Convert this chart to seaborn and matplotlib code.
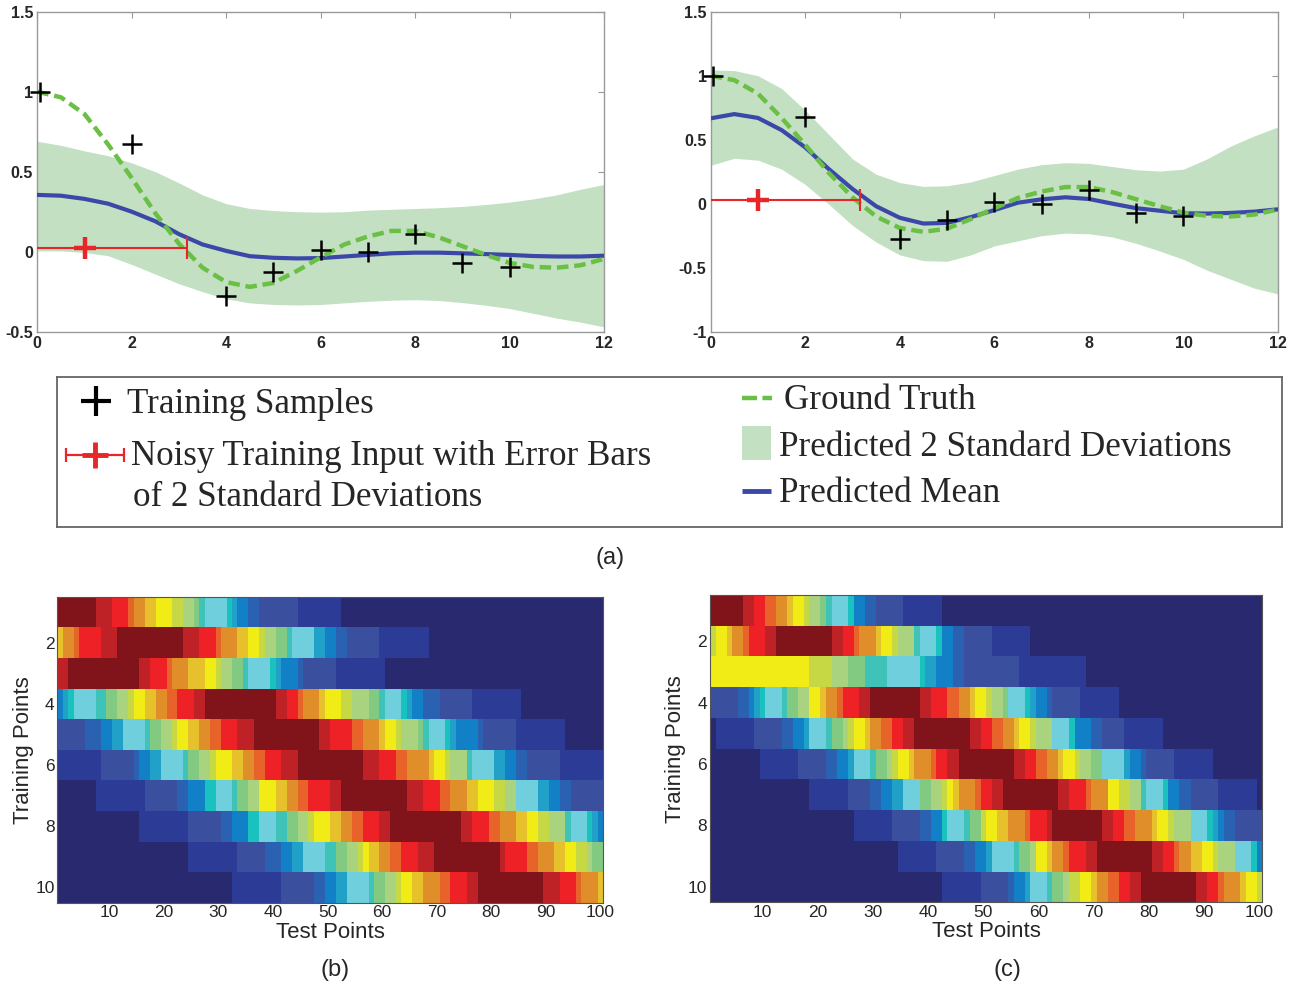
import numpy as np
import pandas as pd
import matplotlib
matplotlib.use("Agg")
import matplotlib.pyplot as plt
from matplotlib.colors import ListedColormap
from matplotlib.patches import Rectangle
import seaborn as sns

# ---------------- data: top panels ----------------
x_grid = [0, 0.5, 1, 1.5, 2, 2.5, 3, 3.5, 4, 4.5, 5, 5.5, 6, 6.5, 7, 7.5, 8, 8.5,
          9, 9.5, 10, 10.5, 11, 11.5, 12]
ground_truth = [1.0, 0.965, 0.86, 0.67, 0.46, 0.24, 0.05, -0.10, -0.19, -0.22, -0.195,
                -0.12, -0.035, 0.045, 0.095, 0.13, 0.13, 0.09, 0.035, -0.02, -0.07,
                -0.095, -0.10, -0.085, -0.045]
left_mean = [0.355, 0.35, 0.33, 0.30, 0.25, 0.19, 0.11, 0.045, 0.005, -0.028, -0.038,
             -0.042, -0.04, -0.03, -0.02, -0.01, -0.006, -0.006, -0.01, -0.015, -0.02,
             -0.027, -0.03, -0.03, -0.025]
left_upper = [0.69, 0.665, 0.63, 0.60, 0.555, 0.50, 0.43, 0.355, 0.30, 0.27, 0.257,
              0.25, 0.247, 0.25, 0.26, 0.265, 0.27, 0.275, 0.283, 0.295, 0.31, 0.33,
              0.355, 0.39, 0.42]
left_lower = [0.005, 0.005, -0.005, -0.025, -0.08, -0.14, -0.20, -0.25, -0.295, -0.32,
              -0.33, -0.333, -0.33, -0.32, -0.31, -0.303, -0.30, -0.305, -0.318, -0.335,
              -0.355, -0.385, -0.415, -0.44, -0.47]
right_mean = [0.667, 0.70, 0.67, 0.575, 0.44, 0.27, 0.115, -0.02, -0.11, -0.155, -0.15,
              -0.105, -0.05, 0.008, 0.034, 0.05, 0.037, 0.0, -0.035, -0.055, -0.075,
              -0.077, -0.072, -0.062, -0.044]
right_upper = [1.045, 1.04, 1.0, 0.90, 0.73, 0.54, 0.35, 0.23, 0.165, 0.135, 0.14, 0.17,
               0.22, 0.27, 0.305, 0.32, 0.315, 0.29, 0.265, 0.255, 0.27, 0.35, 0.45,
               0.53, 0.60]
right_lower = [0.30, 0.355, 0.34, 0.27, 0.15, -0.005, -0.17, -0.30, -0.40, -0.445, -0.45,
               -0.40, -0.33, -0.29, -0.25, -0.23, -0.235, -0.26, -0.31, -0.37, -0.435,
               -0.52, -0.59, -0.66, -0.705]
train_x = [0.05, 2, 4, 5, 6, 7, 8, 9, 10]
train_y = [1.0, 0.675, -0.277, -0.125, 0.01, -0.005, 0.11, -0.072, -0.094]
noisy_x = [1.0]
noisy_y = [0.025]
noisy_xerr = [2.16]

left_yticks = [-0.5, 0, 0.5, 1, 1.5]
left_ylabels = ["-0.5", "0", "0.5", "1", "1.5"]
right_yticks = [-1, -0.5, 0, 0.5, 1, 1.5]
right_ylabels = ["-1", "-0.5", "0", "0.5", "1", "1.5"]
x_ticks = [0, 2, 4, 6, 8, 10, 12]

# ---------------- data: heatmaps (run-length: level char + run length) ----------------
level_codes = "0123456789abcdefghi"
palette_colors = ["#29296f", "#2c3b95", "#3b4f9f", "#2a62b1", "#1280c6", "#22a1c8",
                  "#19c1bf", "#6fcfdd", "#3fc3b9", "#82c982", "#a9d37f", "#c6d944",
                  "#f1ec15", "#e7c12b", "#e08e29", "#e7632a", "#ee2226", "#bf2226",
                  "#80141a"]
heat_b_rows = [
    "i7 h3 g3 f1 e2 d2 c3 b2 a2 91 81 74 61 51 42 32 27 18 048",
    "d1 e2 f1 g4 h3 i12 h3 g3 f1 e3 d2 c2 b1 a2 92 81 74 52 42 32 26 19 032",
    "h2 i13 h2 g3 f1 e3 d3 c2 b1 a2 92 81 74 61 51 43 31 26 19 040",
    "41 51 61 74 82 92 a2 b1 c2 d2 e2 f2 g3 h2 i13 h2 g2 f1 e3 d1 c3 b2 a3 92 81 73 61 51 42 33 26 19 015",
    "25 33 42 52 74 81 92 a2 b1 c2 d2 e2 f2 g3 h3 i12 h2 g4 f2 e3 d1 c2 b1 a3 91 81 73 61 51 44 31 26 19 07",
    "18 26 31 42 52 74 81 92 a2 b1 c3 d2 e2 f2 g3 h3 i12 h3 g3 f2 e4 d1 c2 b1 a3 81 74 52 42 32 26 18",
    "07 19 26 32 43 62 73 81 92 a2 c3 d2 e2 f2 g4 h2 i12 h3 g3 f2 e3 d2 c3 b2 a2 74 52 42 32 26",
    "015 19 26 32 43 62 73 82 92 a2 b1 c3 d2 e2 f2 g3 h2 i13 h2 g3 f2 e3 d2 c2 b2 a3 81 73 61 51 41",
    "024 19 25 33 42 52 74 82 92 a2 b1 c1 d2 e2 f2 g3 h3 i12 h1 g4 f2 e3 d2 c2 b2 a1 92",
    "032 19 26 32 42 52 74 81 92 a2 b1 c2 d2 e3 f2 g3 h2 i12 h3 g3 f1 e3 d1",
]
heat_c_rows = [
    "i6 h2 g2 f2 e2 d1 c2 b1 a2 91 81 73 61 42 32 25 17 058",
    "b1 c2 d1 e2 f1 g3 h2 i10 h2 g2 f1 e3 d1 c2 b1 a3 81 73 61 42 32 25 17 042",
    "c18 b4 a3 93 84 76 61 52 43 32 210 112 032",
    "25 32 41 51 61 73 81 92 a2 c2 d1 e2 f1 g3 h2 i9 h2 g3 f2 e2 d1 c2 b1 a2 91 73 61 51 42 31 25 17 026",
    "01 17 25 32 42 51 73 81 92 a1 b1 c2 d1 e2 f2 g2 h2 i10 h2 g2 f2 e2 d1 c2 b1 a3 73 61 43 32 24 17 018",
    "09 17 25 32 42 51 73 81 92 a1 b1 c2 d1 e3 f1 g2 h2 i10 h2 g2 f2 e2 d1 c2 b1 a2 92 74 51 42 31 25 17 09",
    "018 17 24 32 42 52 73 92 a2 b1 c1 d1 e3 f1 g2 h2 i10 h2 g3 f1 e3 c2 b2 a2 81 73 61 42 32 25 17 01",
    "026 17 25 32 42 61 73 81 92 b1 c2 d2 e3 f1 g3 h1 i9 h2 g2 f2 e3 d1 c2 b1 a3 73 61 51 41 32 25",
    "034 17 25 32 42 51 74 81 92 a1 c2 d1 e2 f1 g3 h2 i10 h2 g2 f1 e2 d2 c2 b1 a3 73 61 41",
    "042 17 25 31 42 51 73 81 92 a1 b2 c2 d1 e2 f2 g2 h2 i10 h2 g2 f1 e3 d1 c2 b1",
]
heat_xticks = [10, 20, 30, 40, 50, 60, 70, 80, 90, 100]
heat_yticks = [2, 4, 6, 8, 10]

# ---------------- style ----------------
sns.set_style("white")
plt.rcParams['font.family'] = ['Liberation Sans', 'DejaVu Sans']

BLUE = "#3b48a8"
GREEN = "#6abf45"
BAND = "#c3e0c3"
RED = "#e8262a"
SPINE = "#9a9a9a"

W, H = 1300, 988
fig = plt.figure(figsize=(13, 9.88), dpi=100)


def fx(px):
    return px / W


def fy(py):
    return 1 - py / H


def top_panel(rect, mean, upper, lower, yticks, ylabels, ylim):
    ax = fig.add_axes(rect)
    ax.fill_between(x_grid, lower, upper, color=BAND, linewidth=0, zorder=1)
    sns.lineplot(x=x_grid, y=mean, color=BLUE, linewidth=3.0, ax=ax, zorder=3,
                 sort=False, estimator=None)
    sns.lineplot(x=x_grid, y=ground_truth, color=GREEN, linewidth=3.2, ax=ax, zorder=4,
                 sort=False, estimator=None)
    ax.lines[-1].set_dashes((2.6, 1.3))
    ax.errorbar(noisy_x, noisy_y, xerr=noisy_xerr, fmt='none', ecolor=RED,
                elinewidth=1.5, capsize=8, capthick=1.5, zorder=5)
    ax.plot(noisy_x, noisy_y, linestyle='none', marker='+', markersize=16,
            markeredgewidth=3.2, color=RED, zorder=6)
    ax.plot(train_x, train_y, linestyle='none', marker='+', markersize=15,
            markeredgewidth=1.8, color='black', zorder=7, clip_on=False)
    ax.set_xlim(0, 12)
    ax.set_ylim(*ylim)
    ax.set_xticks(x_ticks)
    ax.set_xticklabels([str(t) for t in x_ticks])
    ax.set_yticks(yticks)
    ax.set_yticklabels(ylabels)
    ax.tick_params(direction='in', length=4, width=0.8, color=SPINE, top=True,
                   right=True, labelsize=11.5, pad=3)
    for lab in ax.get_xticklabels() + ax.get_yticklabels():
        lab.set_fontweight('bold')
    for s in ax.spines.values():
        s.set_visible(True)
        s.set_color(SPINE)
        s.set_linewidth(1.0)
    ax.set_xlabel("")
    ax.set_ylabel("")
    return ax


top_panel([fx(37.3), fy(331.7), fx(604 - 37.3), (331.7 - 11.7) / H],
          left_mean, left_upper, left_lower, left_yticks, left_ylabels, (-0.5, 1.5))
top_panel([fx(710.7), fy(331.7), fx(1278 - 710.7), (331.7 - 11.7) / H],
          right_mean, right_upper, right_lower, right_yticks, right_ylabels, (-1, 1.5))

# ---------------- legend box ----------------
lg = fig.add_axes([fx(57), fy(527), fx(1282 - 57), 150 / H])
lg.set_xlim(57, 1282)
lg.set_ylim(527, 377)
lg.set_xticks([])
lg.set_yticks([])
for s in lg.spines.values():
    s.set_visible(True)
    s.set_color("#666666")
    s.set_linewidth(1.3)
serif = ['Liberation Serif', 'DejaVu Serif']
fs = 25.2
lg.plot([96], [401], marker='+', markersize=22, markeredgewidth=3.0, color='black')
lg.errorbar([95], [455], xerr=[29], fmt='none', ecolor=RED, elinewidth=1.6,
            capsize=5, capthick=1.6)
lg.plot([95], [455], marker='+', markersize=19, markeredgewidth=3.5, color=RED)
lg.plot([742, 772], [398, 398], color=GREEN, linewidth=3.2, dashes=(3.4, 1.2),
        solid_capstyle='butt', dash_capstyle='butt')
lg.add_patch(Rectangle((742, 426), 29, 34, facecolor=BAND, edgecolor='none'))
lg.plot([742, 771], [491, 491], color=BLUE, linewidth=3.5, solid_capstyle='butt')
lg.text(127, 413, "Training Samples", fontsize=fs, family=serif, va='baseline')
lg.text(131, 465, "Noisy Training Input with Error Bars", fontsize=fs, family=serif,
        va='baseline')
lg.text(133, 506, "of 2 Standard Deviations", fontsize=fs, family=serif, va='baseline')
lg.text(784, 409, "Ground Truth", fontsize=fs, family=serif, va='baseline')
lg.text(779, 456, "Predicted 2 Standard Deviations", fontsize=fs, family=serif,
        va='baseline')
lg.text(779, 502, "Predicted Mean", fontsize=fs, family=serif, va='baseline')

fig.text(fx(610), fy(558), "(a)", ha='center', va='center', fontsize=17)

# ---------------- heatmaps ----------------
cmap = ListedColormap(palette_colors)


def decode(rows):
    mat = []
    for r in rows:
        vals = []
        for tok in r.split():
            vals += [level_codes.index(tok[0])] * int(tok[1:])
        vals = (vals + [vals[-1]] * 100)[:100]
        mat.append(vals)
    return pd.DataFrame(mat, index=range(1, 11), columns=range(1, 101))


def heat_panel(rect, rows):
    ax = fig.add_axes(rect)
    sns.heatmap(decode(rows), cmap=cmap, vmin=-0.5, vmax=len(palette_colors) - 0.5,
                cbar=False, ax=ax, xticklabels=False, yticklabels=False)
    ax.set_xticks([t - 0.5 for t in heat_xticks])
    ax.set_xticklabels([str(t) for t in heat_xticks], rotation=0)
    ax.set_yticks([t - 0.5 for t in heat_yticks])
    ax.set_yticklabels([str(t) for t in heat_yticks], rotation=0)
    ax.tick_params(direction='in', length=4, width=0.8, color='#333333', top=True,
                   right=True, labelsize=12.5, pad=2)
    for s in ax.spines.values():
        s.set_visible(True)
        s.set_color('#555555')
        s.set_linewidth(0.8)
    ax.set_xlabel("Test Points", fontsize=16, labelpad=1)
    ax.set_ylabel("Training Points", fontsize=16, labelpad=1)
    return ax


heat_panel([fx(57.3), fy(902.7), fx(603.3 - 57.3), (902.7 - 596.7) / H], heat_b_rows)
heat_panel([fx(710), fy(902.3), fx(1262.3 - 710), (902.3 - 595) / H], heat_c_rows)

fig.text(fx(335), fy(970), "(b)", ha='center', va='center', fontsize=17)
fig.text(fx(1007), fy(970), "(c)", ha='center', va='center', fontsize=17)

fig.savefig("out.png", dpi=100)
